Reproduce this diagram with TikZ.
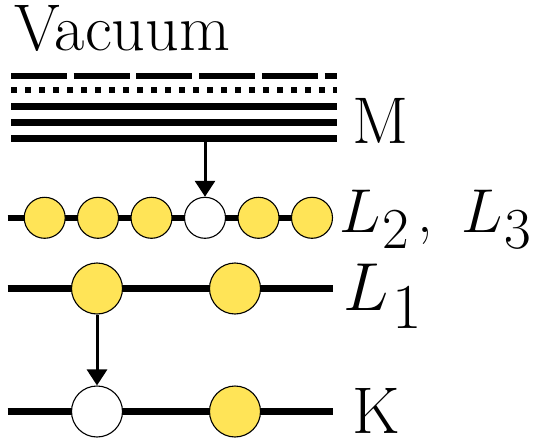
\RequirePackage{fix-cm}
\documentclass[tikz,border=0pt]{standalone}
\usepackage{graphicx}
\usetikzlibrary{arrows.meta}
\newcommand{\subdig}[2]{\hbox{\fontsize{#1}{#1}\selectfont #2}}
\definecolor{elec}{RGB}{255,228,87}
\begin{document}
\begin{tikzpicture}[x=1pt,y=-1pt,
  level/.style={line width=6.5pt},
  small/.style={circle,draw=black,line width=1.1pt,minimum size=41pt,inner sep=0pt},
  big/.style={circle,draw=black,line width=1.1pt,minimum size=51pt,inner sep=0pt},
  filled/.style={fill=elec},
  hole/.style={fill=white},
  trans/.style={line width=3pt,-{Triangle[width=20pt,length=16pt]}},
  lab/.style={anchor=base west,inner sep=0pt,font=\fontsize{66}{66}\selectfont}]
\useasboundingbox (0,0) rectangle (541,444);
% vacuum label
\node[lab] (vac) at (14,51) {Vacuum};
% M shell lines
\coordinate (da) at (11,75.6);  \coordinate (db) at (337,75.6);
\coordinate (pa) at (11,90);    \coordinate (pb) at (337,90);
\coordinate (s1a) at (11,106.7); \coordinate (s1b) at (337,106.7);
\coordinate (s2a) at (11,122.3); \coordinate (s2b) at (337,122.3);
\coordinate (s3a) at (11,138.3); \coordinate (s3b) at (337,138.3);
\draw[line width=6pt,dash pattern=on 56pt off 6.7pt] (da) -- (db);
\draw[line width=5.6pt,dash pattern=on 5.6pt off 8.4pt] (pa) -- (pb);
\draw[level] (s1a) -- (s1b);
\draw[level] (s2a) -- (s2b);
\draw[level] (s3a) -- (s3b);
\node[lab] (M) at (352,143) {M};
% L2, L3 row
\coordinate (l2a) at (7.5,217.8); \coordinate (l2b) at (312,217.8);
\draw[level] (l2a) -- (l2b);
\node[small,filled] (c1) at (44.7,217.8) {};
\node[small,filled] (c2) at (98,217.8) {};
\node[small,filled] (c3) at (151.5,217.8) {};
\node[small,hole]   (c4) at (205,217.8) {};
\node[small,filled] (c5) at (258.5,217.8) {};
\node[small,filled] (c6) at (312,217.8) {};
\node[lab,font=\fontsize{62}{62}\selectfont] (L23) at (339,232)
  {$L_{\kern2pt\subdig{58}{2}}$\hspace{8pt},\hspace{28pt}$L_{\kern2pt\subdig{58}{3}}$};
\coordinate (mdrop) at (205,141.5);
\draw[trans] (mdrop) -- (c4.north);
% L1 row
\coordinate (l1a) at (7.5,288.5); \coordinate (l1b) at (333,288.5);
\draw[level] (l1a) -- (l1b);
\node[big,filled] (a1) at (97,288.5) {};
\node[big,filled] (a2) at (235,288.5) {};
\node[lab,font=\fontsize{68}{68}\selectfont] (L1) at (343,310) {$L_{\kern4pt\subdig{64}{1}}$};
% K row
\coordinate (ka) at (7.5,411.5); \coordinate (kb) at (333,411.5);
\draw[level] (ka) -- (kb);
\node[big,hole]   (k1) at (97,411.5) {};
\node[big,filled] (k2) at (235,411.5) {};
\node[lab] (K) at (352,433) {K};
\draw[trans] (a1.south) -- (k1.north);
\end{tikzpicture}
\end{document}
